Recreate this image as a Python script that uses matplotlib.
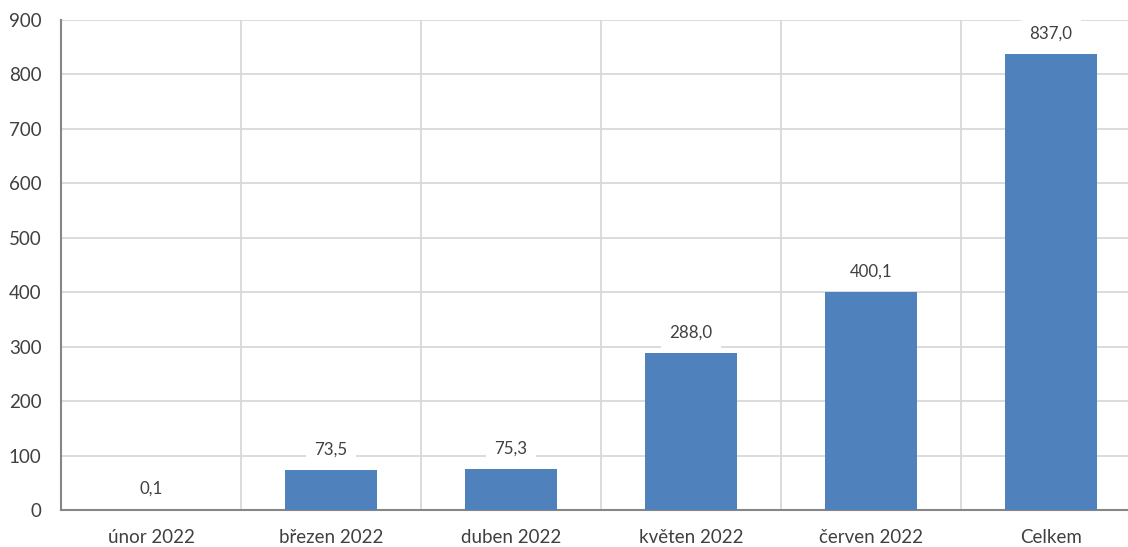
import matplotlib
matplotlib.use("Agg")
import matplotlib.pyplot as plt
import numpy as np

categories = ["únor 2022", "březen 2022", "duben 2022", "květen 2022", "červen 2022", "Celkem"]
values = [0.1, 73.5, 75.3, 288.0, 400.1, 837.0]
yticks = [0, 100, 200, 300, 400, 500, 600, 700, 800, 900]

plt.rcParams["font.family"] = ["Lato", "DejaVu Sans"]

fig = plt.figure(figsize=(11.28, 5.47), dpi=100)
# axes runs slightly past the right edge, as in the reference crop
ax = fig.add_axes([61 / 1128, 37 / 547, 1080 / 1128, 490 / 547])

x = np.arange(len(categories))
bars = ax.bar(x, values, width=0.51, color="#4f81bd", zorder=3)

ax.set_xlim(-0.5, len(categories) - 0.5)
ax.set_ylim(0, 900)
ax.set_yticks(yticks)
ax.set_yticklabels([str(v) for v in yticks])
ax.set_xticks(x)
ax.set_xticklabels(categories)

# vertical separators between categories
ax.set_xticks(np.arange(len(categories) + 1) - 0.5, minor=True)
ax.grid(axis="x", which="minor", color="#d9d9d9", lw=1.3, zorder=0)
ax.grid(axis="y", which="major", color="#d9d9d9", lw=1.3, zorder=0)
ax.grid(axis="x", which="major", visible=False)

ax.tick_params(axis="both", which="both", length=0, colors="#404040", labelsize=13.5)
ax.tick_params(axis="x", pad=14)
ax.tick_params(axis="y", pad=14)

for s in ["top", "right"]:
    ax.spines[s].set_visible(False)
for s in ["left", "bottom"]:
    ax.spines[s].set_color("#868686")
    ax.spines[s].set_linewidth(1.5)

for xi, v in zip(x, values):
    ax.annotate(f"{v:.1f}".replace(".", ","), (xi, v), xytext=(0, 15),
                textcoords="offset points", ha="center", va="center",
                fontsize=12.2, color="#404040", zorder=4,
                bbox=dict(boxstyle="square,pad=0.5", fc="white", ec="none"))

fig.savefig("out.png", dpi=100)
